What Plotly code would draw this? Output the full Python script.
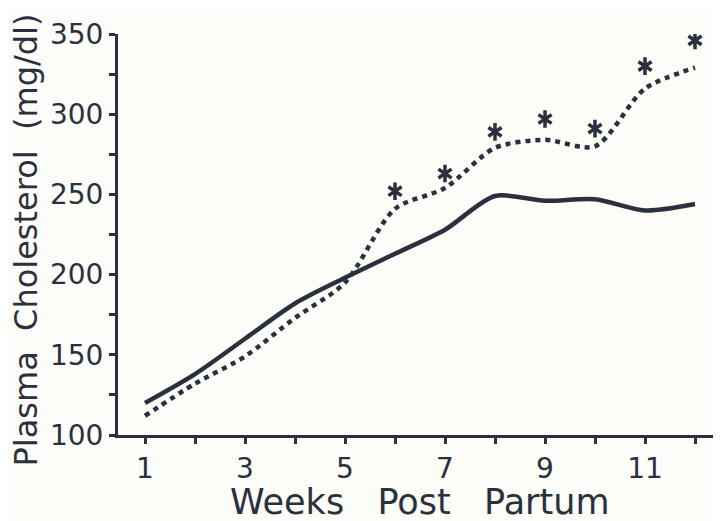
import plotly.graph_objects as go

weeks = [1, 2, 3, 4, 5, 6, 7, 8, 9, 10, 11, 12]
control = [120, 138, 160, 182, 198, 213, 228, 249, 246, 247, 240, 244]
treated = [112, 132, 149, 173, 195, 241, 254, 279, 284, 280, 316, 329]
sig_weeks = [6, 7, 8, 9, 10, 11, 12]
sig_marks = [252, 263, 289, 297, 291, 330, 346]

x_ticks = [1, 3, 5, 7, 9, 11]
y_ticks = [100, 150, 200, 250, 300, 350]
x_title = "Weeks   Post   Partum"
y_title = "Plasma  Cholesterol  (mg/dl)"

ink = "#2a303d"
bg = "#fcfcf8"
font = "DejaVu Sans"

fig = go.Figure()
fig.add_trace(go.Scatter(x=weeks, y=control, mode="lines",
                         line=dict(color=ink, width=4.5, shape="spline", smoothing=0.8),
                         showlegend=False))
fig.add_trace(go.Scatter(x=weeks, y=treated, mode="lines",
                         line=dict(color=ink, width=4.5, dash="5px,5px", shape="spline", smoothing=0.8),
                         showlegend=False))
for sym in ["y-up-open", "y-down-open"]:
    fig.add_trace(go.Scatter(x=sig_weeks, y=sig_marks, mode="markers",
                             marker=dict(symbol=sym, size=11, color=ink,
                                         line=dict(color=ink, width=3.5)),
                             showlegend=False))

fig.update_layout(
    width=713, height=513,
    margin=dict(l=110, r=0, t=26, b=86),
    paper_bgcolor=bg, plot_bgcolor=bg,
    font=dict(family=font, color=ink),
    annotations=[
        dict(text=x_title, xref="paper", yref="paper", x=0.5, y=0, xanchor="center",
             yanchor="middle", yshift=-67, xshift=0, showarrow=False,
             font=dict(size=35, family=font, color=ink)),
        dict(text=y_title, xref="paper", yref="paper", x=0, y=0.5, xanchor="center",
             yanchor="middle", xshift=-93, yshift=-6, textangle=-90, showarrow=False,
             font=dict(size=32, family=font, color=ink)),
    ],
)
fig.update_xaxes(range=[0.46, 12.52], tickvals=x_ticks, ticktext=[str(v) for v in x_ticks],
                 automargin=False,
                 showgrid=False, zeroline=False, showline=True, linecolor=ink, linewidth=3,
                 ticks="outside", ticklen=6, tickwidth=3, tickcolor=ink,
                 tickfont=dict(size=28, family=font, color=ink),
                 minor=dict(tickvals=[2, 4, 6, 8, 10, 12], ticks="outside", ticklen=6,
                            tickwidth=3, tickcolor=ink))
fig.update_yaxes(range=[100, 350], tickvals=y_ticks, ticktext=[str(v) for v in y_ticks],
                 automargin=False,
                 showgrid=False, zeroline=False, showline=True, linecolor=ink, linewidth=3,
                 ticks="outside", ticklen=6, tickwidth=3, tickcolor=ink,
                 tickfont=dict(size=28, family=font, color=ink),
                 minor=dict(tickvals=[125, 175, 225, 275, 325], ticks="outside", ticklen=6,
                            tickwidth=3, tickcolor=ink))

fig.write_html("out.html")
